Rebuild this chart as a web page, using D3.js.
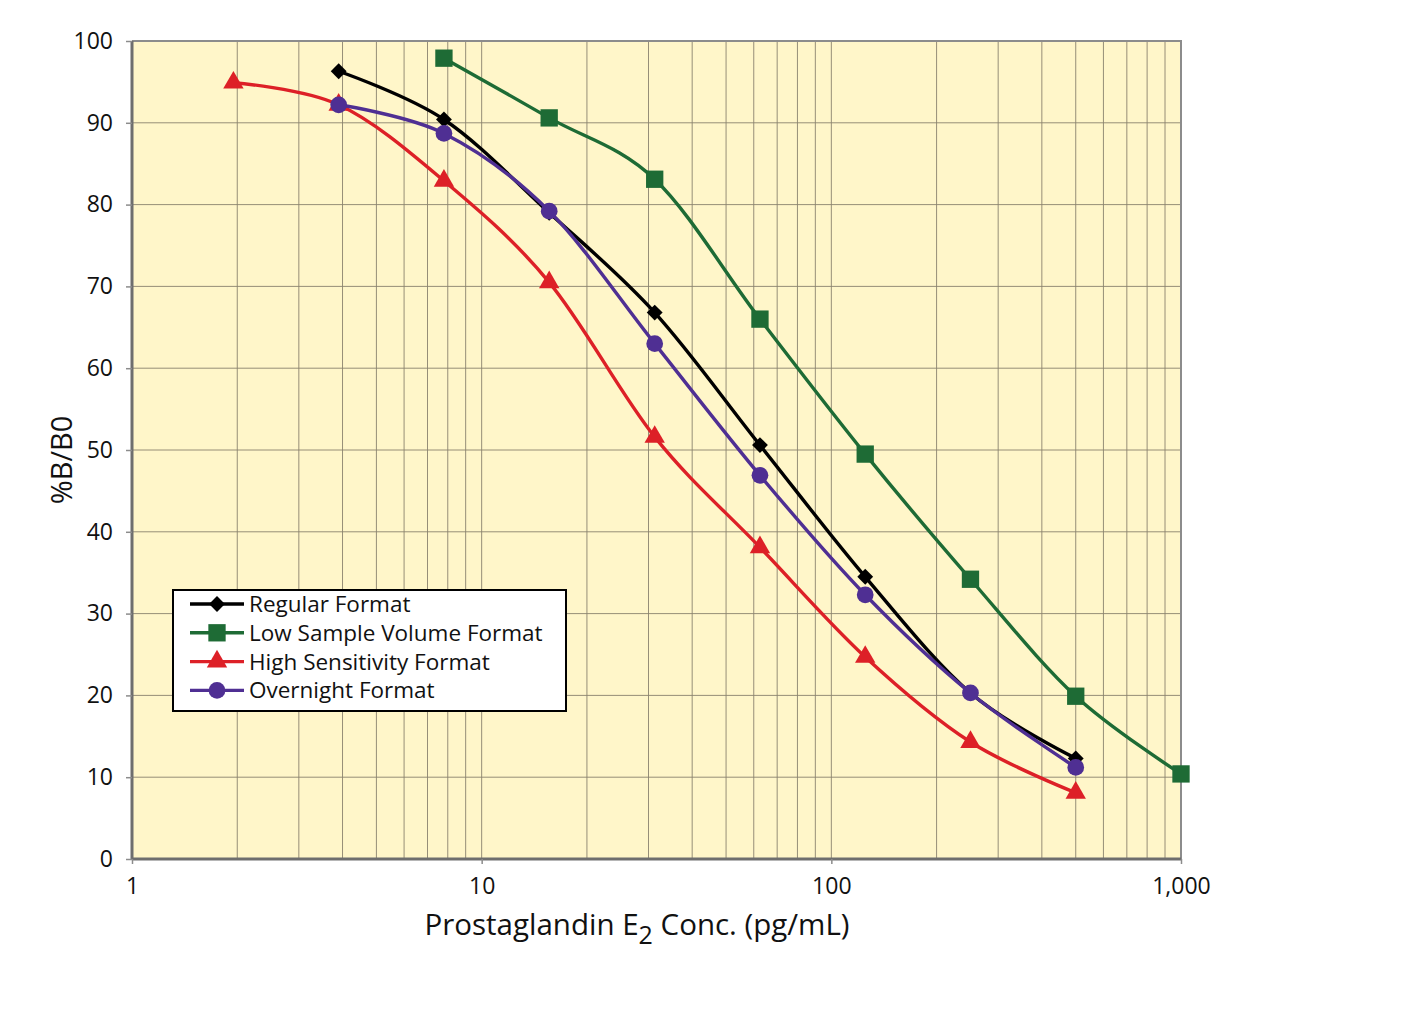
<!DOCTYPE html>
<html>
<head>
<meta charset="utf-8">
<script src="https://cdn.jsdelivr.net/npm/d3@7"></script>
<style>
  body { margin: 0; background: #fff; }
  text { font-family: "Open Sans", sans-serif; fill: #111; }
</style>
</head>
<body>
<svg id="chart"></svg>
<script>
// concentrations (pg/mL)
const conc = [1.95, 3.9, 7.8, 15.6, 31.25, 62.5, 125, 250, 500, 1000];

const regular = [null, 96.3, 90.4, 79.0, 66.8, 50.6, 34.5, 20.3, 12.3, null];
const lowVolume = [null, null, 97.9, 90.6, 83.1, 66.0, 49.5, 34.2, 19.9, 10.4];
const highSens = [94.9, 92.2, 82.9, 70.5, 51.6, 38.1, 24.7, 14.3, 8.1, null];
const overnight = [null, 92.2, 88.7, 79.2, 63.0, 46.9, 32.3, 20.3, 11.2, null];

const seriesNames = ["Regular Format", "Low Sample Volume Format", "High Sensitivity Format", "Overnight Format"];
const seriesColors = ["#000000", "#1e6b35", "#dd2027", "#4f2f93"];
const seriesMarkers = ["diamond", "square", "triangle", "circle"];

const yTicks = [0, 10, 20, 30, 40, 50, 60, 70, 80, 90, 100];
const xTicks = [1, 10, 100, 1000];

const W = 1425, H = 1025;
const plot = { left: 132, top: 41, right: 1181, bottom: 859 };

const svg = d3.select("#chart").attr("width", W).attr("height", H);

const x = d3.scaleLog().domain([1, 1000]).range([plot.left, plot.right]);
const y = d3.scaleLinear().domain([0, 100]).range([plot.bottom, plot.top]);

// background
svg.append("rect")
    .attr("x", plot.left).attr("y", plot.top)
    .attr("width", plot.right - plot.left).attr("height", plot.bottom - plot.top)
    .attr("fill", "#fff6c9");

// grid
const minor = [];
for (let d = 1; d < 1000; d *= 10) for (let k = 2; k <= 10; k++) minor.push(d * k);
svg.append("g").selectAll("line").data(minor).join("line")
    .attr("x1", d => x(d)).attr("x2", d => x(d))
    .attr("y1", plot.top).attr("y2", plot.bottom)
    .attr("stroke", "#8a826e").attr("stroke-width", 0.9);
svg.append("g").selectAll("line").data(yTicks.slice(1)).join("line")
    .attr("x1", plot.left).attr("x2", plot.right)
    .attr("y1", d => y(d)).attr("y2", d => y(d))
    .attr("stroke", "#8a826e").attr("stroke-width", 0.9);

// frame
svg.append("path")
    .attr("d", `M${plot.left},${plot.top}H${plot.right}V${plot.bottom}`)
    .attr("fill", "none").attr("stroke", "#8c8c8c").attr("stroke-width", 2);

// axes
const yAxis = svg.append("g").attr("transform", `translate(${plot.left},0)`)
    .call(d3.axisLeft(y).tickValues(yTicks).tickSize(6).tickPadding(13));
const xAxis = svg.append("g").attr("transform", `translate(0,${plot.bottom})`)
    .call(d3.axisBottom(x).tickValues(xTicks).tickFormat(d3.format(",")).tickSize(5).tickPadding(14));
[yAxis, xAxis].forEach(a => {
    a.select(".domain").attr("stroke", "#6e6e6e").attr("stroke-width", 3);
    a.selectAll(".tick line").attr("stroke", "#8c8c8c").attr("stroke-width", 1.5);
    a.selectAll("text").style("font-size", "23px").attr("fill", "#111");
});
yAxis.select(".domain").attr("d", `M0,${plot.top}V${plot.bottom}`);
xAxis.select(".domain").attr("d", `M${plot.left},0H${plot.right}`);

// titles
svg.append("text")
    .attr("transform", `translate(72,460) rotate(-90)`)
    .attr("text-anchor", "middle").style("font-size", "29px").text("%B/B0");
const xt = svg.append("text")
    .attr("x", 637).attr("y", 935).attr("text-anchor", "middle").style("font-size", "29.5px");
xt.append("tspan").text("Prostaglandin E");
xt.append("tspan").attr("dy", 9).style("font-size", "25px").text("2");
xt.append("tspan").attr("dy", -9).text(" Conc. (pg/mL)");

// markers
const symbolFor = {
    diamond: d3.symbol().type(d3.symbolDiamond2).size(160),
    square: d3.symbol().type(d3.symbolSquare).size(300),
    triangle: d3.symbol().type(d3.symbolTriangle).size(180),
    circle: d3.symbol().type(d3.symbolCircle).size(220)
};

const allSeries = [regular, lowVolume, highSens, overnight];
const line = d3.line()
    .defined(d => d[1] != null)
    .x(d => x(d[0])).y(d => y(d[1]))
    .curve(d3.curveCatmullRom.alpha(0));

allSeries.forEach((vals, i) => {
    const pts = conc.map((c, j) => [c, vals[j]]).filter(d => d[1] != null);
    const g = svg.append("g");
    g.append("path").datum(pts).attr("d", line)
        .attr("fill", "none").attr("stroke", seriesColors[i]).attr("stroke-width", 3.4);
    g.selectAll("path.m").data(pts).join("path").attr("class", "m")
        .attr("transform", d => `translate(${x(d[0])},${y(d[1])})`)
        .attr("d", symbolFor[seriesMarkers[i]]())
        .attr("fill", seriesColors[i]);
});

// legend
const lg = svg.append("g").attr("transform", "translate(173,590)");
lg.append("rect").attr("width", 393).attr("height", 121)
    .attr("fill", "#fff").attr("stroke", "#000").attr("stroke-width", 2);
seriesNames.forEach((n, i) => {
    const ly = 14 + i * 28.8;
    lg.append("line").attr("x1", 17).attr("x2", 71).attr("y1", ly).attr("y2", ly)
        .attr("stroke", seriesColors[i]).attr("stroke-width", 3.4);
    lg.append("path").attr("transform", `translate(44,${ly})`)
        .attr("d", symbolFor[seriesMarkers[i]]()).attr("fill", seriesColors[i]);
    lg.append("text").attr("x", 76).attr("y", ly + 8).style("font-size", "22.5px").text(n);
});
</script>
</body>
</html>
